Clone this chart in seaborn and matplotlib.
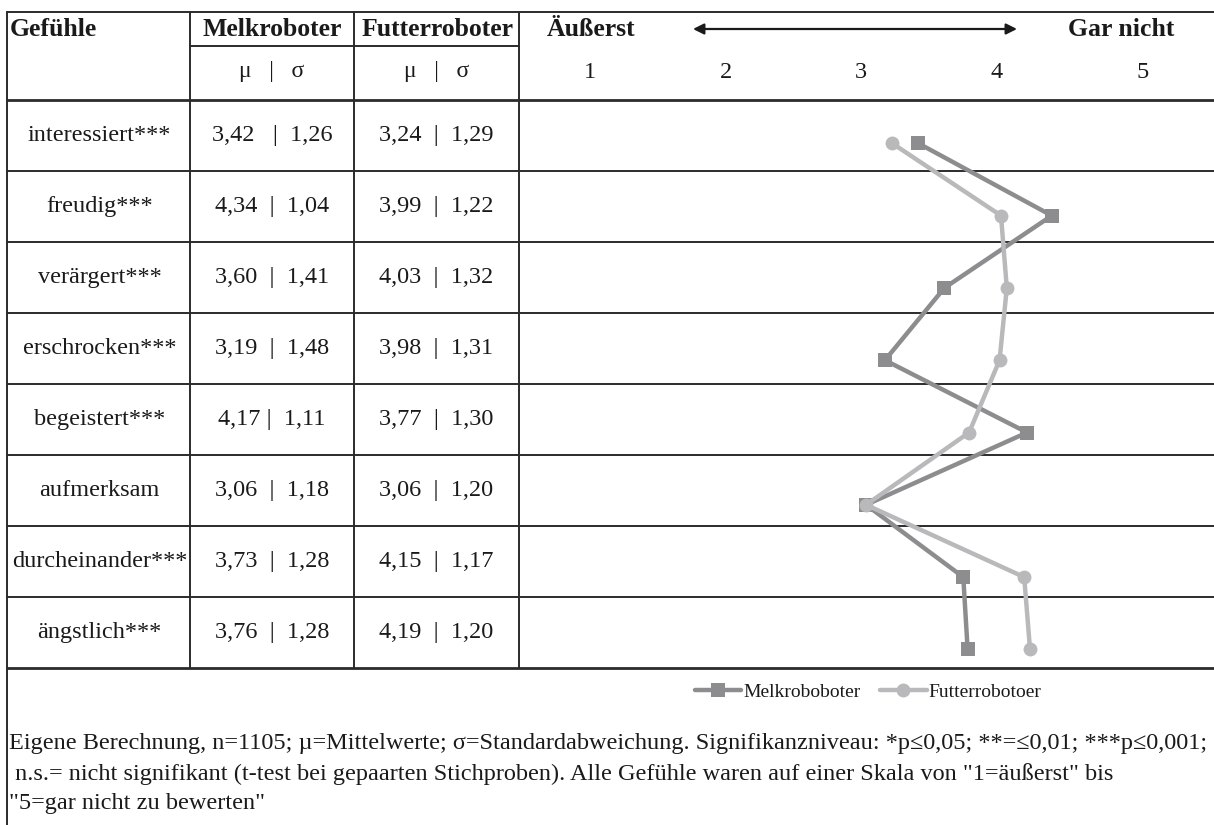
import matplotlib
matplotlib.use("Agg")
import matplotlib.pyplot as plt
import seaborn as sns
import pandas as pd

# ---------------- data ----------------
gefuehle = ["interessiert***", "freudig***", "verärgert***", "erschrocken***",
            "begeistert***", "aufmerksam", "durcheinander***", "ängstlich***"]
melk_mu = [3.42, 4.34, 3.60, 3.19, 4.17, 3.06, 3.73, 3.76]
melk_sd = [1.26, 1.04, 1.41, 1.48, 1.11, 1.18, 1.28, 1.28]
futter_mu = [3.24, 3.99, 4.03, 3.98, 3.77, 3.06, 4.15, 4.19]
futter_sd = [1.29, 1.22, 1.32, 1.31, 1.30, 1.20, 1.17, 1.20]
melk_cells = ["3,42   |  1,26", "4,34  |  1,04", "3,60  |  1,41", "3,19  |  1,48",
              "4,17 |  1,11", "3,06  |  1,18", "3,73  |  1,28", "3,76  |  1,28"]
futter_cells = ["3,24  |  1,29", "3,99  |  1,22", "4,03  |  1,32", "3,98  |  1,31",
                "3,77  |  1,30", "3,06  |  1,20", "4,15  |  1,17", "4,19  |  1,20"]
scale_ticks = ["1", "2", "3", "4", "5"]
series_names = ["Melkroboboter", "Futterrobotoer"]
footnote = [
    "Eigene Berechnung, n=1105; µ=Mittelwerte; σ=Standardabweichung. Signifikanzniveau: *p≤0,05; **=≤0,01; ***p≤0,001;",
    " n.s.= nicht signifikant (t-test bei gepaarten Stichproben). Alle Gefühle waren auf einer Skala von \"1=äußerst\" bis",
    "\"5=gar nicht zu bewerten\"",
]

# ---------------- style ----------------
sns.set_style("white")
plt.rcParams["font.family"] = ["Liberation Serif", "DejaVu Serif"]
plt.rcParams["text.color"] = "#1a1a1a"

W, H = 1214, 825
fig = plt.figure(figsize=(W / 100, H / 100), dpi=100)
bg = fig.add_axes([0, 0, 1, 1])
bg.set_xlim(0, W)
bg.set_ylim(H, 0)
bg.axis("off")

line_c = "#2b2b2b"
# table geometry (pixels)
x_left, c1, c2, c3, x_right = 7, 190, 354, 519, W
y_top, y_sub, y_head = 12, 46, 100
row_h = 71
y_bottom = y_head + row_h * len(gefuehle)

bg.plot([x_left, x_right], [y_top, y_top], color=line_c, lw=1.4)
bg.plot([c1, c3], [y_sub, y_sub], color=line_c, lw=1.4)
bg.plot([x_left, x_right], [y_head, y_head], color=line_c, lw=2.0)
for i in range(1, len(gefuehle)):
    y = y_head + row_h * i
    bg.plot([x_left, x_right], [y, y], color=line_c, lw=1.4)
bg.plot([x_left, x_right], [y_bottom, y_bottom], color=line_c, lw=2.0)
bg.plot([x_left, x_left], [y_top, H], color=line_c, lw=1.4)
for cx in (c1, c2, c3):
    bg.plot([cx, cx], [y_top, y_bottom], color=line_c, lw=1.4)

# header
hfs = 18.5
bg.text(10, 29, "Gefühle", fontsize=hfs, fontweight="bold", ha="left", va="center")
bg.text((c1 + c2) / 2, 29, "Melkroboter", fontsize=hfs, fontweight="bold", ha="center", va="center")
bg.text((c2 + c3) / 2 + 1, 29, "Futterroboter", fontsize=hfs, fontweight="bold", ha="center", va="center")
bg.text((c1 + c2) / 2, 72, "μ   |   σ", fontsize=17, ha="center", va="center")
bg.text((c2 + c3) / 2, 72, "μ   |   σ", fontsize=17, ha="center", va="center")
bg.text(591, 29, "Äußerst", fontsize=hfs, fontweight="bold", ha="center", va="center")
bg.text(1121, 29, "Gar nicht", fontsize=hfs, fontweight="bold", ha="center", va="center")
bg.annotate("", xy=(1017, 29), xytext=(693, 29),
            arrowprops=dict(arrowstyle="<|-|>", color="#1a1a1a", lw=1.6,
                            mutation_scale=16, shrinkA=0, shrinkB=0))
for t, tx in zip(scale_ticks, [590, 726, 861, 997, 1143]):
    bg.text(tx, 72, t, fontsize=17.5, ha="center", va="center")

# cell texts
cfs = 17.5
for i, (g, m, f) in enumerate(zip(gefuehle, melk_cells, futter_cells)):
    yc = y_head + row_h * i + row_h / 2
    bg.text((x_left + c1) / 2 + 1, yc, g, fontsize=cfs, ha="center", va="center")
    bg.text((c1 + c2) / 2, yc, m, fontsize=cfs, ha="center", va="center")
    bg.text((c2 + c3) / 2, yc, f, fontsize=cfs, ha="center", va="center")

# footnote
for k, (line, fy) in enumerate(zip(footnote, [743, 774, 803])):
    bg.text(9, fy, line, fontsize=17.5, ha="left", va="center")

# ---------------- profile plot ----------------
ax = fig.add_axes([c3 / W, 1 - y_bottom / H, (W - c3) / W, (y_bottom - y_head) / H])
ax.patch.set_alpha(0)
df = pd.DataFrame({
    "wert": melk_mu + futter_mu,
    "pos": list(range(len(gefuehle))) * 2,
    "roboter": [series_names[0]] * len(gefuehle) + [series_names[1]] * len(gefuehle),
})
pal = {series_names[0]: "#8d8d8f", series_names[1]: "#b9b9bb"}
sns.lineplot(data=df, x="wert", y="pos", hue="roboter", style="roboter",
             hue_order=series_names, style_order=series_names,
             markers={series_names[0]: "s", series_names[1]: "o"}, dashes=False,
             palette=pal, estimator=None, sort=False, orient="y",
             lw=3.2, markersize=10, markeredgewidth=0, ax=ax)
ax.set_xlim(0.668, 5.458)
ax.set_ylim(7.257, -0.599)
ax.axis("off")
handles, labels = ax.get_legend_handles_labels()
ax.get_legend().remove()
fig.legend(handles, labels, loc="center", bbox_to_anchor=(868 / W, 1 - 692 / H),
           ncol=2, frameon=False, fontsize=14, handlelength=2.4,
           handletextpad=0.1, columnspacing=1.0, borderpad=0)

fig.savefig("out.png", dpi=100)
